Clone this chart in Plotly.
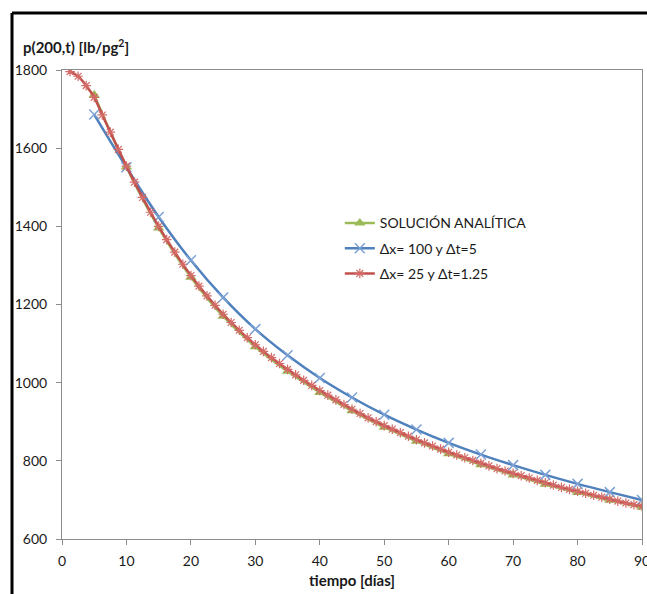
import plotly.graph_objects as go

# ---- data ----
t_analytic = [5, 10, 15, 20, 25, 30, 35, 40, 45, 50, 55, 60, 65, 70, 75, 80, 85, 90]
p_analytic = [1736, 1552, 1396, 1270, 1170, 1092, 1029, 975, 928, 886, 850, 818,
              790, 764, 740, 719, 699, 681]

t_dx100 = [5, 10, 15, 20, 25, 30, 35, 40, 45, 50, 55, 60, 65, 70, 75, 80, 85, 90]
p_dx100 = [1686, 1551, 1424, 1313, 1218, 1137, 1070, 1012, 962, 918, 880, 846,
           816, 789, 764, 741, 720, 700]

t_dx25 = [1.25, 2.5, 3.75, 5, 6.25, 7.5, 8.75, 10, 11.25, 12.5, 13.75, 15,
          16.25, 17.5, 18.75, 20, 21.25, 22.5, 23.75, 25, 26.25, 27.5, 28.75, 30,
          31.25, 32.5, 33.75, 35, 36.25, 37.5, 38.75, 40, 41.25, 42.5, 43.75, 45,
          46.25, 47.5, 48.75, 50, 51.25, 52.5, 53.75, 55, 56.25, 57.5, 58.75, 60,
          61.25, 62.5, 63.75, 65, 66.25, 67.5, 68.75, 70, 71.25, 72.5, 73.75, 75,
          76.25, 77.5, 78.75, 80, 81.25, 82.5, 83.75, 85, 86.25, 87.5, 88.75, 90]
p_dx25 = [1796, 1784, 1760, 1730, 1685, 1641, 1597, 1554, 1513, 1474, 1436, 1400,
          1366, 1334, 1303, 1274, 1247, 1222, 1198, 1175, 1154, 1134, 1115, 1097,
          1080, 1064, 1049, 1034, 1020, 1006, 993, 980, 968, 956, 944, 932,
          921, 910, 900, 890, 881, 872, 863, 854, 846, 838, 830, 822,
          815, 808, 801, 794, 787, 780, 774, 768, 762, 756, 750, 744,
          738, 732, 727, 722, 717, 712, 707, 702, 697, 692, 688, 684]

names = ["SOLUCIÓN ANALÍTICA", "Δx= 100 y Δt=5", "Δx= 25 y Δt=1.25"]
x_ticks = [0, 10, 20, 30, 40, 50, 60, 70, 80, 90]
y_ticks = [600, 800, 1000, 1200, 1400, 1600, 1800]

GREEN, BLUE, RED = "#9BBB59", "#4F81BD", "#C0504D"
FONT = "Lato, 'Open Sans', sans-serif"

fig = go.Figure()
fig.add_trace(go.Scatter(
    x=t_analytic, y=p_analytic, name=names[0], legendgroup="a",
    mode="lines+markers", line=dict(color=GREEN, width=2.5, shape="spline"),
    marker=dict(symbol="triangle-up", size=10, color=GREEN)))
fig.add_trace(go.Scatter(
    x=t_dx100, y=p_dx100, name=names[1], legendgroup="b",
    mode="lines+markers", line=dict(color=BLUE, width=2.5, shape="spline"),
    marker=dict(symbol="x-thin", size=10, color="#7BA1D4",
                line=dict(width=1.5, color="#7BA1D4"))))
fig.add_trace(go.Scatter(
    x=t_dx25, y=p_dx25, name=names[2], legendgroup="c",
    mode="lines+markers", line=dict(color=RED, width=2.5, shape="spline"),
    marker=dict(symbol="asterisk-open", size=8, color="#D46A67",
                line=dict(width=1.2, color="#D46A67"))))

fig.update_layout(
    width=647, height=594,
    margin=dict(l=62, r=5, t=70, b=55, autoexpand=False),
    paper_bgcolor="white", plot_bgcolor="white",
    font=dict(family=FONT, size=14, color="#1a1a1a"),
    showlegend=True,
    legend=dict(x=0.479, y=0.707, xanchor="left", yanchor="top",
                bgcolor="rgba(0,0,0,0)", font=dict(size=14, color="#1a1a1a"),
                traceorder="grouped", tracegroupgap=4, itemwidth=30),
    xaxis=dict(range=[0, 90], tickvals=x_ticks, showgrid=False, zeroline=False,
               showline=True, linecolor="#8C8C8C", linewidth=1, mirror=True,
               ticks="outside", ticklen=5, tickcolor="#8C8C8C", automargin=False,
               ticklabeloverflow="allow", ticklabelstandoff=4,
               title=dict(text="<b>tiempo [días]</b>", standoff=7,
                          font=dict(size=15, color="#1a1a1a"))),
    yaxis=dict(range=[600, 1800], tickvals=y_ticks, showgrid=False, zeroline=False,
               showline=True, linecolor="#8C8C8C", linewidth=1, mirror=True,
               ticks="outside", ticklen=5, tickcolor="#8C8C8C", automargin=False,
               ticklabelstandoff=6),
    annotations=[dict(text="<b>p(200,t) [lb/pg<sup>2</sup>]</b>", xref="paper", yref="paper",
                      x=(21 - 62) / 580, y=(539 - 47) / 469, xanchor="left", yanchor="middle",
                      showarrow=False, font=dict(size=15, color="#1a1a1a"))],
    shapes=[
        dict(type="line", xref="paper", yref="paper",
             x0=(12 - 62) / 580, x1=(12 - 62) / 580, y0=-0.3, y1=(539 - 13) / 469,
             line=dict(color="black", width=3), layer="above"),
        dict(type="line", xref="paper", yref="paper",
             x0=(12 - 62) / 580, x1=1.2, y0=(539 - 13) / 469, y1=(539 - 13) / 469,
             line=dict(color="black", width=3), layer="above"),
    ],
)

fig.write_html("out.html", config={"displayModeBar": False},
               post_script="document.body.style.margin='0';"
                           "document.body.style.overflow='hidden';")
